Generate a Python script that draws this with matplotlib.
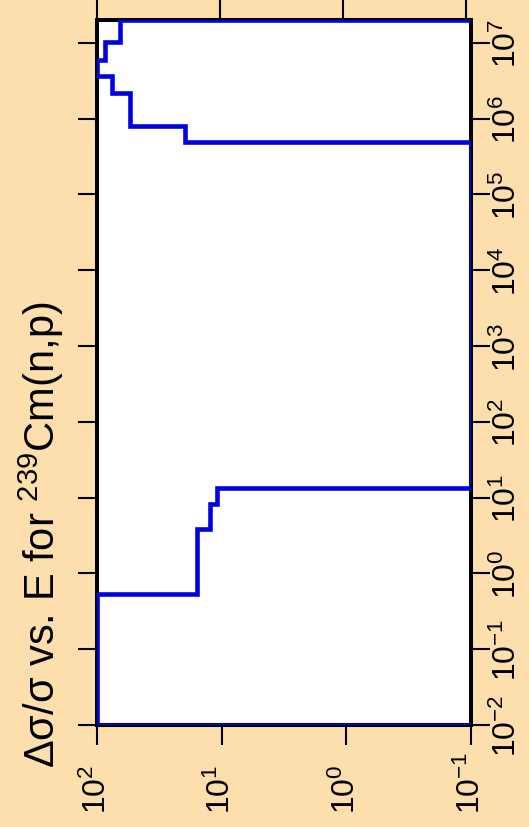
import matplotlib
matplotlib.use("Agg")
import matplotlib.pyplot as plt
import numpy as np

plt.rcParams['font.family'] = ['Liberation Sans', 'DejaVu Sans']
plt.rcParams['mathtext.default'] = 'regular'

# relative uncertainty steps: energy group edges (eV) and value in each group
energia = [1e-2, 0.53, 3.9, 8.2, 13.2, 4.9e5, 8.0e5, 2.2e6, 3.7e6, 6.0e6, 1.03e7, 2.0e7]
incert = [100.0, 15.8, 12.5, 11.0, 0.0, 19.8, 54.0, 76.0, 100.0, 86.0, 65.0]

x_ticks = [1e2, 1e1, 1e0, 1e-1]
x_etiq = ['$10^{2}$', '$10^{1}$', '$10^{0}$', '$10^{-1}$']
y_ticks = [1e-2, 1e-1, 1e0, 1e1, 1e2, 1e3, 1e4, 1e5, 1e6, 1e7]
y_etiq = ['$10^{-2}$', '$10^{-1}$', '$10^{0}$', '$10^{1}$', '$10^{2}$',
          '$10^{3}$', '$10^{4}$', '$10^{5}$', '$10^{6}$', '$10^{7}$']

titulo = 'Δσ/σ vs. E for $^{239}$Cm(n,p)'

fondo = '#fddead'
azul = '#0000e0'
x_min, x_max = 100, 0.1

fig = plt.figure(figsize=(5.29, 8.28), dpi=100, facecolor=fondo)
ax = fig.add_axes([97 / 529, 102 / 828, 374 / 529, 705 / 828])
ax.set_facecolor('white')

# armar la escalera: sube desde el piso, recorre los grupos y vuelve al piso
v = np.clip(np.array(incert), x_max, x_min)
xs = np.concatenate([[x_max], np.repeat(v, 2), [x_max]])
ys = np.repeat(np.array(energia), 2)
ax.plot(xs, ys, color=azul, lw=3.3, zorder=3, solid_joinstyle='miter')

ax.set_xscale('log')
ax.set_yscale('log')
ax.set_xlim(x_min, x_max)
ax.set_ylim(energia[0], energia[-1])

ax.set_xticks(x_ticks)
ax.set_xticklabels(x_etiq)
ax.set_yticks(y_ticks)
ax.set_yticklabels(y_etiq)
ax.minorticks_off()

for s in ax.spines.values():
    s.set_linewidth(2.9)

ax.tick_params(axis='x', which='major', bottom=True, top=False,
               direction='out', length=14.5, width=1.5, pad=49,
               labelsize=23, labelrotation=90)
ax.tick_params(axis='y', which='major', left=True, right=True,
               labelleft=False, labelright=True, direction='out',
               length=14, width=1.5, pad=1, labelsize=23, labelrotation=90)
for t in ax.get_xticklabels():
    t.set_va('bottom')
for t in ax.get_yticklabels():
    t.set_va('center')

# marcas superiores sin etiquetas
ax2 = ax.twiny()
ax2.set_xscale('log')
ax2.set_xlim(100, 0.0912)
ax2.set_xticks(x_ticks)
ax2.minorticks_off()
ax2.tick_params(axis='x', which='major', top=True, labeltop=False,
                direction='out', length=22, width=1.5)
for s in ax2.spines.values():
    s.set_visible(False)
ax2.patch.set_visible(False)

fig.text(55 / 529, 1 - 535 / 828, titulo, rotation=90, rotation_mode='anchor',
         ha='center', va='baseline', fontsize=30)

fig.savefig('out.png', dpi=100, facecolor=fondo)
